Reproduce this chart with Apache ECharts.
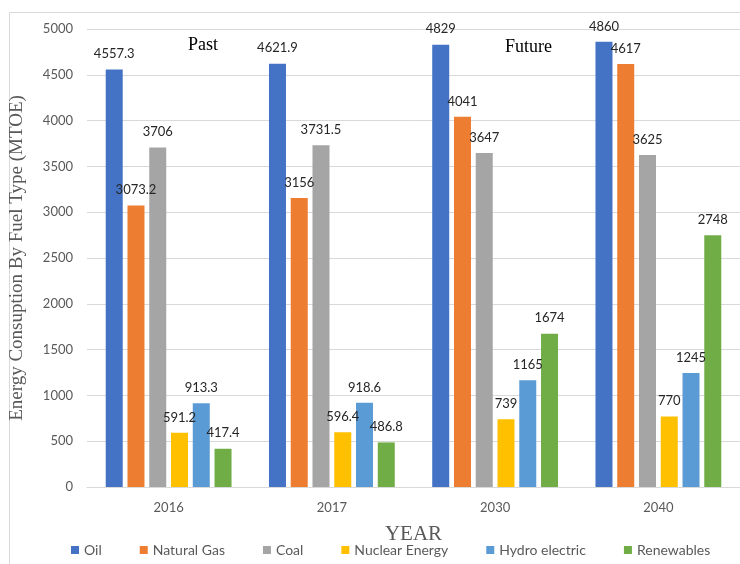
<!DOCTYPE html>
<html lang="en">
<head>
    <meta charset="UTF-8">
    <title>ECharts</title>
    <script src="https://cdn.jsdelivr.net/npm/echarts@6/dist/echarts.min.js"></script>
    <style>
        html, body { margin: 0; padding: 0; background: #fff; }
    </style>
</head>
<body>
<div id="main" style="width: 740px;height:564px;"></div>

<script type="text/javascript">
    // data
    var years = ['2016', '2017', '2030', '2040'];
    var fuelNames = ['Oil', 'Natural Gas', 'Coal', 'Nuclear Energy', 'Hydro electric', 'Renewables'];
    var oil = [4557.3, 4621.9, 4829, 4860];
    var naturalGas = [3073.2, 3156, 4041, 4617];
    var coal = [3706, 3731.5, 3647, 3625];
    var nuclear = [591.2, 596.4, 739, 770];
    var hydro = [913.3, 918.6, 1165, 1245];
    var renewables = [417.4, 486.8, 1674, 2748];
    var colors = ['#4472C4', '#ED7D31', '#A5A5A5', '#FFC000', '#5B9BD5', '#70AD47'];

    var myChart = echarts.init(document.getElementById('main'));

    var allValues = [oil, naturalGas, coal, nuclear, hydro, renewables];
    var series = [];
    for (var i = 0; i < fuelNames.length; i++) {
        series.push({
            name: fuelNames[i],
            type: 'bar',
            barWidth: 17,
            barGap: '28%',
            data: allValues[i],
            itemStyle: { color: colors[i] },
            label: {
                show: true,
                position: 'top',
                distance: 9,
                color: '#262626',
                fontFamily: 'Lato',
                fontSize: 13
            }
        });
    }

    var option = {
        animation: false,
        color: colors,
        grid: {
            left: 86,
            top: 29,
            width: 656,
            bottom: 77
        },
        legend: {
            data: fuelNames,
            left: 66,
            bottom: 2,
            itemWidth: 8,
            itemHeight: 8,
            itemGap: 38,
            icon: 'rect',
            textStyle: { color: '#595959', fontFamily: 'Lato', fontSize: 14 }
        },
        xAxis: {
            type: 'category',
            data: years,
            name: 'YEAR',
            nameLocation: 'middle',
            nameGap: 37,
            nameTextStyle: { fontFamily: 'Liberation Serif', fontSize: 21, color: '#595959' },
            axisLine: { lineStyle: { color: '#d9d9d9' } },
            axisTick: { show: false },
            axisLabel: { color: '#595959', fontFamily: 'Lato', fontSize: 13, margin: 14 }
        },
        yAxis: {
            type: 'value',
            min: 0,
            max: 5000,
            interval: 500,
            name: 'Energy Consuption By Fuel Type (MTOE)',
            nameLocation: 'middle',
            nameGap: 60,
            nameTextStyle: { fontFamily: 'Liberation Serif', fontSize: 19, color: '#595959' },
            axisLabel: {
                color: '#595959', fontFamily: 'Lato', fontSize: 13, margin: 14,
                formatter: function (v) { return String(v); }
            },
            splitLine: { lineStyle: { color: '#d9d9d9' } }
        },
        graphic: [
            {
                type: 'rect',
                shape: { x: 9.5, y: 12.5, width: 760, height: 600 },
                style: { fill: 'none', stroke: '#d9d9d9', lineWidth: 1 },
                silent: true
            },
            {
                type: 'text',
                left: 188,
                top: 36,
                style: { text: 'Past', font: '18px "Liberation Serif"', fill: '#000' }
            },
            {
                type: 'text',
                left: 505,
                top: 38,
                style: { text: 'Future', font: '18px "Liberation Serif"', fill: '#000' }
            }
        ],
        series: series
    };

    myChart.setOption(option);
</script>
</body>
</html>
